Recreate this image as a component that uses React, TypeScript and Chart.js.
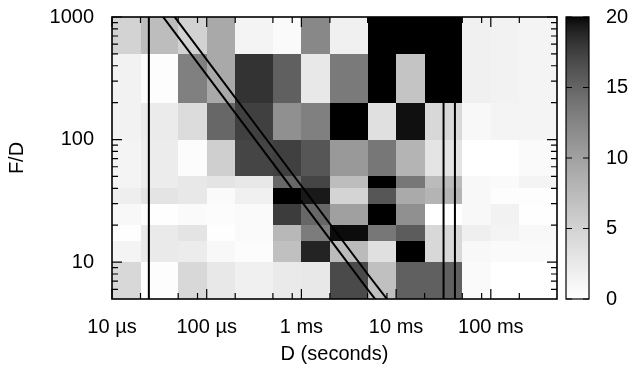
import React, { useEffect, useRef } from 'react';
import { Chart, registerables } from 'chart.js';

Chart.register(...registerables);

// ---- data ----
// bin edges of D (seconds) and of F/D
const xEdges = [1e-5, 2e-5, 5e-5, 1e-4, 2e-4, 5e-4, 1e-3, 2e-3, 5e-3, 1e-2, 2e-2, 5e-2, 1e-1, 2e-1, 5e-1];
const yEdges = [5, 10, 15, 20, 30, 40, 50, 100, 200, 500, 1000];

// counts per cell, one array per F/D row (bottom to top), one value per D column
const rowFD5to10 = [4.4, 0.2, 4.4, 2.6, 1.7, 2.4, 2.6, 16.9, 6.9, 15.4, 15.4, 0.6, 0, 0];
const rowFD10to15 = [1.3, 2.4, 2.2, 0.8, 0.3, 6.9, 19.0, 7.4, 3.5, 22, 4.4, 0.8, 0.6, 0.6];
const rowFD15to20 = [0.1, 2.4, 3.1, 0.1, 0.6, 7.7, 13.2, 19.8, 13.6, 15.7, 4.4, 1.8, 1.3, 0.8];
const rowFD20to30 = [0.8, 0.1, 0.6, 0.3, 0.6, 17.7, 14.9, 10.1, 25, 11.5, 0, 0.8, 1.5, 0.1];
const rowFD30to40 = [2.0, 3.1, 2.6, 0.6, 1.7, 23, 19.4, 4.8, 16.1, 9.1, 8.1, 0.8, 0.2, 0.2];
const rowFD40to50 = [1.3, 2.2, 2.6, 3.1, 2.6, 14.9, 17.2, 7.2, 22, 13.6, 7.4, 0.8, 0.6, 1.3];
const rowFD50to100 = [1.3, 2.2, 0.3, 5.4, 17.2, 17.5, 16.1, 10.7, 13.6, 8.1, 3.1, 0, 0, 0.6];
const rowFD100to200 = [1.5, 2.3, 4.0, 14.9, 17.5, 11.5, 12.9, 23, 3.5, 19.7, 4.4, 0.8, 1.3, 1.3];
const rowFD200to500 = [1.5, 0.2, 12.9, 9.2, 18.2, 15.4, 2.6, 13.4, 26, 6.5, 28, 1.7, 1.5, 1.3];
const rowFD500to1000 = [4.9, 7.2, 5.0, 9.2, 1.3, 0.6, 12.2, 1.7, 24, 27, 30, 1.7, 1.5, 1.3];
const counts = [
  rowFD5to10, rowFD10to15, rowFD15to20, rowFD20to30, rowFD30to40,
  rowFD40to50, rowFD50to100, rowFD100to200, rowFD200to500, rowFD500to1000,
];

// overlay curves
const verticalLineA = [{ x: 2.45e-5, y: 5 }, { x: 2.45e-5, y: 1000 }];
const verticalLineB = [{ x: 0.0317, y: 5 }, { x: 0.0317, y: 200 }];
const verticalLineC = [{ x: 0.0418, y: 5 }, { x: 0.0418, y: 200 }];
const diagonalLow = [{ x: 1e-5, y: 3600 }, { x: 5e-3, y: 6 }, { x: 1e-2, y: 3 }];
const diagonalHigh = [{ x: 1e-5, y: 4800 }, { x: 5e-3, y: 8 }, { x: 1e-2, y: 4 }];

// ticks
const xMajorTicks = [1e-5, 1e-4, 1e-3, 1e-2, 1e-1];
const xTickLabels = ['10 µs', '100 µs', '1 ms', '10 ms', '100 ms'];
const xMinorTicks = [2e-5, 5e-5, 8e-5, 2e-4, 5e-4, 8e-4, 2e-3, 5e-3, 8e-3, 2e-2, 5e-2, 8e-2, 2e-1];
const yMajorTicks = [10, 100, 1000];
const yTickLabels = ['10', '100', '1000'];
const yMinorTicks = [6, 7, 8, 9, 20, 30, 40, 50, 60, 70, 80, 90, 200, 300, 400, 500, 600, 700, 800, 900];
const cbTicks = [0, 5, 10, 15, 20];
const cbTickLabels = ['0', '5', '10', '15', '20'];
const cbMin = 0;
const cbMax = 20;

const FONT = "'Liberation Sans', Arial, Helvetica, sans-serif";

const grayFor = (v: number) => {
  const f = Math.min(Math.max((v - cbMin) / (cbMax - cbMin), 0), 1);
  const g = Math.round(255 * Math.pow(1 - f, 2 / 3));
  return `rgb(${g},${g},${g})`;
};

const heatmapPlugin = {
  id: 'heatmap',
  beforeDatasetsDraw(chart: any) {
    const { ctx } = chart;
    const xs = chart.scales.x;
    const ys = chart.scales.y;
    ctx.save();
    for (let r = 0; r < counts.length; r++) {
      for (let c = 0; c < counts[r].length; c++) {
        const x0 = Math.round(xs.getPixelForValue(xEdges[c]));
        const x1 = Math.round(xs.getPixelForValue(xEdges[c + 1]));
        const y0 = Math.round(ys.getPixelForValue(yEdges[r + 1]));
        const y1 = Math.round(ys.getPixelForValue(yEdges[r]));
        ctx.fillStyle = grayFor(counts[r][c]);
        ctx.fillRect(x0, y0, x1 - x0, y1 - y0);
      }
    }
    ctx.restore();
  },
};

const frameTicksPlugin = {
  id: 'frameTicks',
  afterDatasetsDraw(chart: any) {
    const { ctx, chartArea } = chart;
    const { left, right, top, bottom } = chartArea;
    const xs = chart.scales.x;
    const ys = chart.scales.y;
    ctx.save();
    ctx.strokeStyle = '#000';
    ctx.lineWidth = 1.2;
    const xt = (v: number, len: number) => {
      const p = xs.getPixelForValue(v);
      ctx.beginPath();
      ctx.moveTo(p, bottom);
      ctx.lineTo(p, bottom - len);
      ctx.moveTo(p, top);
      ctx.lineTo(p, top + len);
      ctx.stroke();
    };
    const yt = (v: number, len: number) => {
      const p = ys.getPixelForValue(v);
      ctx.beginPath();
      ctx.moveTo(left, p);
      ctx.lineTo(left + len, p);
      ctx.moveTo(right, p);
      ctx.lineTo(right - len, p);
      ctx.stroke();
    };
    xMajorTicks.forEach((v) => xt(v, 10));
    xMinorTicks.forEach((v) => xt(v, 6));
    yMajorTicks.forEach((v) => yt(v, 10));
    yMinorTicks.forEach((v) => yt(v, 6));
    ctx.lineWidth = 1.6;
    ctx.strokeRect(left, top, right - left, bottom - top);
    ctx.restore();
  },
};

const colorbarPlugin = {
  id: 'colorbar',
  afterDraw(chart: any) {
    const { ctx } = chart;
    const cb = chart.scales.cb;
    const barLeft = 566;
    const barRight = 589;
    const pTop = cb.getPixelForValue(cbMax);
    const pBottom = cb.getPixelForValue(cbMin);
    ctx.save();
    for (let py = Math.floor(pTop); py < Math.ceil(pBottom); py++) {
      const v = cb.getValueForPixel(py + 0.5);
      ctx.fillStyle = grayFor(v);
      ctx.fillRect(barLeft, py, barRight - barLeft, 1);
    }
    ctx.strokeStyle = '#000';
    ctx.lineWidth = 1.2;
    ctx.strokeRect(barLeft, pTop, barRight - barLeft, pBottom - pTop);
    ctx.fillStyle = '#000';
    ctx.font = `20px ${FONT}`;
    ctx.textAlign = 'left';
    ctx.textBaseline = 'middle';
    cbTicks.forEach((v, i) => {
      const p = cb.getPixelForValue(v);
      ctx.beginPath();
      ctx.moveTo(barLeft, p);
      ctx.lineTo(barLeft + 6, p);
      ctx.moveTo(barRight, p);
      ctx.lineTo(barRight - 6, p);
      ctx.stroke();
      ctx.fillText(cbTickLabels[i], 606, p);
    });
    ctx.restore();
  },
};

const lineDs = (data: { x: number; y: number }[]) => ({
  data,
  showLine: true,
  borderColor: '#000',
  borderWidth: 2,
  pointRadius: 0,
  pointHoverRadius: 0,
  fill: false,
  tension: 0,
  clip: 0,
});

const zeroPadding = (scale: any) => {
  scale.paddingTop = 0;
  scale.paddingBottom = 0;
  scale.paddingLeft = 0;
  scale.paddingRight = 0;
};

export default function App() {
  const ref = useRef<HTMLCanvasElement>(null);
  useEffect(() => {
    if (!ref.current) return;
    const chart = new Chart(ref.current, {
      type: 'scatter',
      data: {
        datasets: [
          lineDs(verticalLineA),
          lineDs(verticalLineB),
          lineDs(verticalLineC),
          lineDs(diagonalLow),
          lineDs(diagonalHigh),
        ] as any,
      },
      options: {
        responsive: false,
        animation: false,
        devicePixelRatio: 1,
        layout: { padding: { top: 17, right: 84, bottom: 0, left: 0 } },
        plugins: { legend: { display: false }, tooltip: { enabled: false } },
        events: [],
        scales: {
          x: {
            type: 'logarithmic',
            position: 'bottom',
            min: 1e-5,
            max: 0.5,
            grid: { display: false, drawTicks: false },
            border: { display: false },
            afterBuildTicks: (scale: any) => {
              scale.ticks = [...xMajorTicks, ...xMinorTicks]
                .sort((a, b) => a - b)
                .map((v) => ({ value: v }));
            },
            afterFit: (scale: any) => {
              scale.height = 76;
              zeroPadding(scale);
            },
            ticks: {
              autoSkip: false,
              maxRotation: 0,
              minRotation: 0,
              padding: 16,
              color: '#000',
              font: { size: 20, family: FONT },
              callback: (v: any) => {
                const i = xMajorTicks.findIndex((t) => Math.abs(t - Number(v)) / t < 1e-6);
                return i >= 0 ? xTickLabels[i] : '';
              },
            },
            title: {
              display: true,
              text: 'D (seconds)',
              color: '#000',
              font: { size: 20, family: FONT },
              padding: { top: 0, bottom: 9 },
            },
          },
          y: {
            type: 'logarithmic',
            position: 'left',
            min: 5,
            max: 1000,
            grid: { display: false, drawTicks: false },
            border: { display: false },
            afterBuildTicks: (scale: any) => {
              scale.ticks = [...yMajorTicks, ...yMinorTicks]
                .sort((a, b) => a - b)
                .map((v) => ({ value: v }));
            },
            afterFit: (scale: any) => {
              scale.width = 112;
              zeroPadding(scale);
            },
            ticks: {
              autoSkip: false,
              padding: 18,
              color: '#000',
              font: { size: 20, family: FONT },
              callback: (v: any) => {
                const i = yMajorTicks.findIndex((t) => Math.abs(t - Number(v)) / t < 1e-6);
                return i >= 0 ? yTickLabels[i] : '';
              },
            },
            title: {
              display: true,
              text: 'F/D',
              color: '#000',
              font: { size: 20, family: FONT },
              padding: { top: 5, bottom: 0 },
            },
          },
          cb: {
            type: 'linear',
            position: 'right',
            display: false,
            min: cbMin,
            max: cbMax,
          },
        },
      } as any,
      plugins: [heatmapPlugin, frameTicksPlugin, colorbarPlugin],
    });
    return () => chart.destroy();
  }, []);

  return (
    <div style={{ position: 'absolute', left: 0, top: 0, width: 641, height: 375, background: '#fff' }}>
      <canvas ref={ref} width={641} height={375} style={{ display: 'block', width: 641, height: 375 }} />
    </div>
  );
}
